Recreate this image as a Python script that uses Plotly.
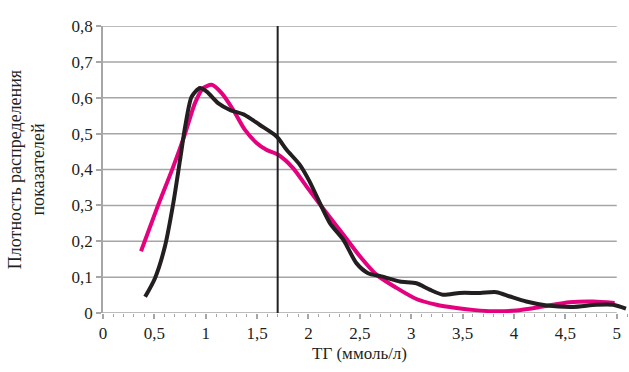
import plotly.graph_objects as go

# Data
pink_x = [0.37, 0.52, 0.684, 0.80, 0.895, 0.976, 1.057, 1.155, 1.268, 1.38, 1.495, 1.59, 1.705, 1.85, 1.98, 2.14, 2.34, 2.50, 2.66, 2.857, 3.05, 3.246, 3.44, 3.62, 3.80, 4.02, 4.28, 4.54, 4.77, 4.98]
pink_y = [0.172, 0.288, 0.408, 0.501, 0.585, 0.627, 0.636, 0.613, 0.566, 0.511, 0.474, 0.455, 0.441, 0.404, 0.353, 0.292, 0.218, 0.158, 0.107, 0.070, 0.039, 0.023, 0.014, 0.008, 0.005, 0.007, 0.018, 0.030, 0.032, 0.028]

black_x = [0.41, 0.506, 0.603, 0.684, 0.75, 0.80, 0.863, 0.944, 1.01, 1.12, 1.235, 1.38, 1.527, 1.69, 1.787, 1.916, 2.01, 2.08, 2.21, 2.34, 2.466, 2.58, 2.71, 2.89, 3.05, 3.18, 3.31, 3.47, 3.67, 3.83, 3.96, 4.12, 4.32, 4.575, 4.80, 4.965, 5.09]
black_y = [0.045, 0.097, 0.186, 0.306, 0.427, 0.52, 0.603, 0.627, 0.617, 0.585, 0.566, 0.552, 0.524, 0.492, 0.455, 0.413, 0.367, 0.325, 0.25, 0.204, 0.139, 0.111, 0.102, 0.088, 0.083, 0.065, 0.051, 0.056, 0.056, 0.058, 0.046, 0.032, 0.021, 0.017, 0.023, 0.023, 0.012]

cutoff_x = 1.7
x_ticks = [0, 0.5, 1, 1.5, 2, 2.5, 3, 3.5, 4, 4.5, 5]
y_ticks = [0, 0.1, 0.2, 0.3, 0.4, 0.5, 0.6, 0.7, 0.8]
x_title = "ТГ (ммоль/л)"
y_title = "Плотность распределения<br>показателей"

PINK = "#E5007E"
BLACK = "#231F20"
GRID = "#A6A6A6"
FONT = "Liberation Serif, Times New Roman, DejaVu Serif, serif"

fig = go.Figure()
fig.add_trace(go.Scatter(x=pink_x, y=pink_y, mode="lines",
                         line=dict(color=PINK, width=4, shape="spline", smoothing=0.7),
                         showlegend=False, hoverinfo="skip"))
fig.add_trace(go.Scatter(x=black_x, y=black_y, mode="lines",
                         line=dict(color=BLACK, width=4, shape="spline", smoothing=0.7),
                         showlegend=False, hoverinfo="skip"))

shapes = []
for yv in y_ticks[1:]:
    shapes.append(dict(type="line", xref="x", yref="y", x0=0, x1=x_ticks[-1], y0=yv, y1=yv,
                       line=dict(color=GRID, width=1.5), layer="below"))
# x axis line
shapes.append(dict(type="line", xref="x", yref="y", x0=0, x1=x_ticks[-1], y0=0, y1=0,
                   line=dict(color=GRID, width=1.5), layer="below"))
# vertical cutoff line
shapes.append(dict(type="line", xref="x", yref="y", x0=cutoff_x, x1=cutoff_x, y0=-0.012, y1=y_ticks[-1],
                   line=dict(color=BLACK, width=2)))

fig.update_layout(
    width=629, height=372,
    margin=dict(l=103, r=2, t=26, b=59),
    paper_bgcolor="white", plot_bgcolor="white",
    separators=", ",
    font=dict(family=FONT, size=17, color=BLACK),
    shapes=shapes,
    annotations=[dict(text=x_title, xref="x", yref="paper", x=2.5, y=0, xanchor="center", yanchor="top",
                      yshift=-29, showarrow=False, font=dict(family=FONT, size=17, color=BLACK))],
    xaxis=dict(range=[0, 5.1], tickvals=x_ticks, showgrid=False, zeroline=False,
               showline=False, ticks="outside", ticklen=5, tickcolor=GRID, tickwidth=1.5,
               tickfont=dict(family=FONT, size=17, color=BLACK),
               minor=dict(dtick=0.1, ticks="outside", ticklen=3, tickcolor=GRID, tickwidth=1, showgrid=False)),
    yaxis=dict(range=[0, 0.8], tickvals=y_ticks, showgrid=False, zeroline=False,
               showline=True, linecolor=GRID, linewidth=1.5,
               ticks="outside", ticklen=5, tickcolor=GRID, tickwidth=1.5,
               tickfont=dict(family=FONT, size=17, color=BLACK),
               title=dict(text=y_title, font=dict(family=FONT, size=18, color=BLACK), standoff=22)),
)

fig.write_html("out.html")
